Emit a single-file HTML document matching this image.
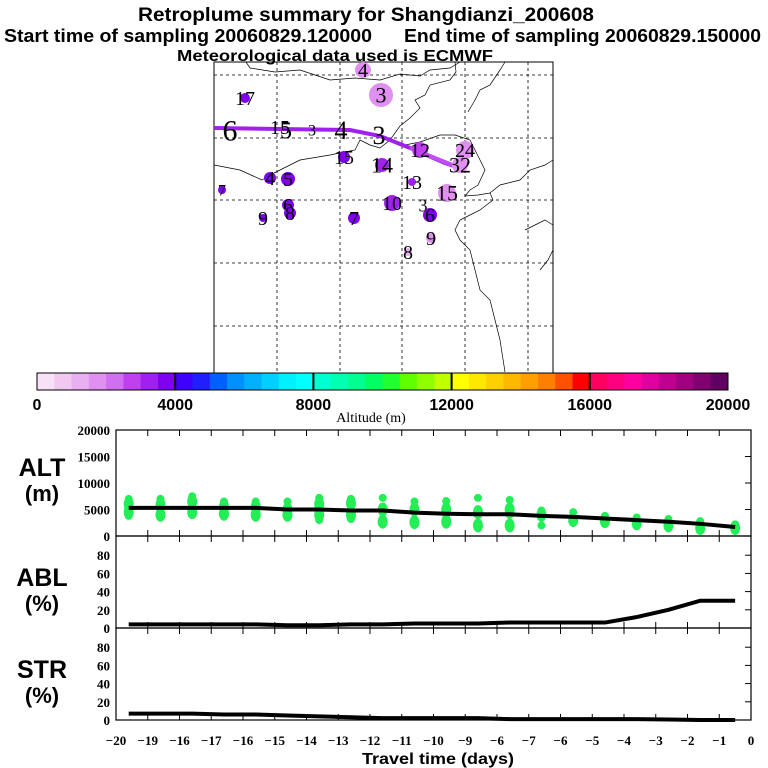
<!DOCTYPE html>
<html><head><meta charset="utf-8"><style>
body{margin:0;background:#fff;}
svg{display:block;font-family:"Liberation Sans",sans-serif;}
.tl{font-family:"Liberation Serif",serif;font-size:13px;font-weight:bold;}
.ml{font-family:"Liberation Serif",serif;fill:#000;}
</style></head><body>
<svg id="c" width="768" height="768" viewBox="0 0 768 768">
<rect width="768" height="768" fill="#fff"/>
<text x="366" y="21" font-size="19" font-weight="bold" text-anchor="middle" textLength="456" lengthAdjust="spacingAndGlyphs">Retroplume summary for Shangdianzi_200608</text>
<text x="4" y="42" font-size="18" font-weight="bold" textLength="368" lengthAdjust="spacingAndGlyphs">Start time of sampling 20060829.120000</text>
<text x="404" y="42" font-size="18" font-weight="bold" textLength="357" lengthAdjust="spacingAndGlyphs">End time of sampling 20060829.150000</text>
<text x="177" y="61" font-size="16" font-weight="bold" textLength="316" lengthAdjust="spacingAndGlyphs">Meteorological data used is ECMWF</text>

<g id="map">
<rect x="214" y="62" width="339" height="311" fill="none" stroke="#000" stroke-width="1"/>
<g stroke="#000" stroke-dasharray="3,3" stroke-width="0.8">
<line x1="277" y1="62" x2="277" y2="373"/><line x1="340" y1="62" x2="340" y2="373"/><line x1="402" y1="62" x2="402" y2="373"/><line x1="465" y1="62" x2="465" y2="373"/><line x1="528" y1="62" x2="528" y2="373"/>
<line x1="214" y1="75" x2="553" y2="75"/><line x1="214" y1="138" x2="553" y2="138"/><line x1="214" y1="200" x2="553" y2="200"/><line x1="214" y1="263" x2="553" y2="263"/><line x1="214" y1="326" x2="553" y2="326"/>
</g>
<g fill="none" stroke="#000" stroke-width="0.7">
<path d="M246,62 L250,68 L275,72 L300,70 L330,80 L355,78 L380,80 L400,74 L420,76 L430,70 L450,68 L460,62"/>
<path d="M455,62 L456,72 L450,80 L430,85 L425,95 L415,100 L420,108 L410,118 L400,126 L390,140 L380,148 L370,145 L360,140 L355,150 L330,155 L300,160 L280,170 L270,175 L262,180 L240,170 L214,165"/>
<path d="M390,140 L405,145 L420,142 L440,135 L455,135 L470,140 L475,150 L480,160 L485,170 L478,185 L470,190 L465,196 L478,195 L490,193 L493,200 L480,210 L470,215 L460,220 L455,230 L460,240 L470,250 L475,270 L480,290 L490,300 L495,320 L500,340 L505,372"/>
<path d="M490,193 L500,185 L520,180 L530,170 L545,165 L553,160"/>
<path d="M525,230 L535,225 L545,220 L553,225"/>
<path d="M540,270 L548,260 L553,250"/>
<path d="M468,112 L475,100 L480,90 L490,85 L500,70 L505,62"/>
</g>
<polyline points="214,128 350,130 380,136 410,148 445,163 460,168" fill="none" stroke="#a020f0" stroke-width="4"/>
<line x1="410" y1="148" x2="460" y2="168" stroke="#c050f0" stroke-width="4"/>
<g id="mapmarks"></g>
</g>

<g id="cbar"></g>
<text x="371" y="422" class="ml" font-size="14" text-anchor="middle">Altitude (m)</text>

<g id="alt"></g>
<g id="abl"></g>
<g id="str"></g>
<g id="xaxis"></g>
<text x="438" y="764" font-size="16" font-weight="bold" text-anchor="middle" textLength="152" lengthAdjust="spacingAndGlyphs">Travel time (days)</text>
<text x="42" y="476" font-size="25" font-weight="bold" text-anchor="middle">ALT</text>
<text x="42" y="501" font-size="22" font-weight="bold" text-anchor="middle">(m)</text>
<text x="42" y="586" font-size="25" font-weight="bold" text-anchor="middle">ABL</text>
<text x="42" y="611" font-size="22" font-weight="bold" text-anchor="middle">(%)</text>
<text x="42" y="678" font-size="25" font-weight="bold" text-anchor="middle">STR</text>
<text x="42" y="703" font-size="22" font-weight="bold" text-anchor="middle">(%)</text>
</svg>
<script>
const NS="http://www.w3.org/2000/svg";
// ---- data ----
const cbarColors=["#f8e0f8","#f0c8f0","#e8b0f0","#e090f0","#d070f0","#c040f0","#a020f0","#8000f0","#4000ff","#2020ff","#0060ff","#0090ff","#00b0ff","#00d0ff","#00f0ff","#00ffff","#00ffd0","#00ffb0","#00ff90","#00ff60","#20ff30","#60ff00","#90ff00","#c0ff00","#ffff00","#ffe800","#ffd000","#ffb800","#ffa000","#ff8000","#ff5000","#ff0000","#ff0060","#ff0080","#ff00a0","#e000a0","#c00090","#a00080","#800070","#600060"];
const cbarTicks=[0,4000,8000,12000,16000,20000];
const days=[-19.6,-18.6,-17.6,-16.6,-15.6,-14.6,-13.6,-12.6,-11.6,-10.6,-9.6,-8.6,-7.6,-6.6,-5.6,-4.6,-3.6,-2.6,-1.6,-0.5];
const altMean=[5300,5300,5300,5300,5300,5000,5000,4800,4800,4400,4200,4100,4100,3800,3600,3300,3000,2700,2300,1700];
const ablMean=[4,4,4,4,4,3,3,4,4,5,5,5,6,6,6,6,12,20,30,30];
const strMean=[7,7,7,6,6,5,4,3,2,2,2,2,1,1,1,1,1,0.5,0,0];
const altCluster=[[7000,6000,5500,4500,3800],[7000,5800,4500,4000],[7500,6500,5500,4500],[6500,5500,4500,4200],[6500,5500,4500,4000],[6500,5000,4500,4000],[7200,6000,5000,4000,3000],[7000,6200,5000,4000,3200],[7200,5000,4500,2700],[6500,5000,4500,2600],[6600,5000,4000,2700],[7200,4500,4000,2000],[6800,5000,4000,2000],[4800,4000,2000],[4500,3000],[3800,2800],[3500,2400],[3200,2000],[2800,1500],[2200,1500]];
const xTickLabels=["\u221220","\u221219","\u221216","\u221217","\u221216","\u221215","\u221214","\u221213","\u221212","\u221211","\u221210","\u22129","\u22126","\u22127","\u22126","\u22125","\u22124","\u22123","\u22122","\u22121","0"];
const altTicks=[0,5000,10000,15000,20000];
const pctTicks=[0,20,40,60,80];
const mapLabels=["4","3","17","6","15","5","3","4","3","12","24","15","14","13","4","5","7","10","3","6","15","9","8","6","8","9","7","32"];
const mapX=[363,381,245,230,280,286,312,341,379,420,465,344,382,412,270,288,222,392,423,430,447,431,408,288,290,263,354,460];
const mapY=[70,95,98,130,127,130,130,130,135,150,150,157,165,182,178,179,190,203,205,215,193,238,252,205,213,218,218,165];
const mapAlt=[1600,1600,3700,3500,3500,3500,3500,3500,3500,2800,1600,3700,3200,3200,3700,3700,3900,3200,1600,3600,1600,1600,1400,3700,3700,3700,3700,1500];
const mapSize=[8,12,5,0,0,0,0,0,0,8,9,6,7,4,6,7,4,8,0,7,9,5,4,6,6,4,6,8];
const mapFont=[20,22,20,30,20,24,16,26,26,20,20,20,22,20,20,20,16,20,18,20,22,20,20,20,20,20,20,22];
// ---- scales ----
const X0=116,X1=751;
const xs=d=>X0+(d+20)/20*(X1-X0);
const altY=v=>536-v/20000*106;
const ablY=v=>628-v/100*91;
const strY=v=>720-v/100*91;
function el(tag,attrs,parent,txt){const e=document.createElementNS(NS,tag);for(const k in attrs)e.setAttribute(k,attrs[k]);if(txt!==undefined)e.textContent=txt;parent.appendChild(e);return e;}
const colorFor=a=>cbarColors[Math.min(39,Math.floor(a/500))];
// colorbar
const cb=document.getElementById('cbar');
const cbx=v=>37+v/20000*691;
cbarColors.forEach((c,i)=>{const r=el('rect',{x:cbx(i*500),y:373,width:691/40+0.5,height:17,fill:c},cb);

});
el('rect',{x:37,y:373,width:691,height:17,fill:'none',stroke:'#000'},cb);
cbarTicks.forEach(t=>{if(t>0&&t<20000)el('line',{x1:cbx(t),y1:373,x2:cbx(t),y2:390,stroke:'#000','stroke-width':2},cb);
const tx=el('text',{x:cbx(t),y:410,'font-size':16,'font-weight':'bold','text-anchor':'middle'},cb,String(t));

});
// map markers
const mm=document.getElementById('mapmarks');
mapLabels.forEach((l,i)=>{if(mapSize[i]>0){const c=el('circle',{cx:mapX[i],cy:mapY[i],r:mapSize[i],fill:colorFor(mapAlt[i])},mm);

}
const t=el('text',{x:mapX[i],y:mapY[i]+mapFont[i]*0.35,'font-size':mapFont[i],'text-anchor':'middle',class:'ml'},mm,l);

});
// panels
function frame(g,top,bot,ticks,yf){
el('rect',{x:X0,y:top,width:X1-X0,height:bot-top,fill:'none',stroke:'#000','stroke-width':1.2},g);
for(let d=-19;d<=-1;d++){el('line',{x1:xs(d),y1:top,x2:xs(d),y2:top+6,stroke:'#000'},g);el('line',{x1:xs(d),y1:bot,x2:xs(d),y2:bot-6,stroke:'#000'},g);}
ticks.forEach(t=>{const y=yf(t);if(t>0){el('line',{x1:X1,y1:y,x2:X1-6,y2:y,stroke:'#000'},g);}
const tx=el('text',{x:X0-6,y:y+5,'text-anchor':'end',class:'tl'},g,String(t));

});
}
function line(g,vals,yf,name){const p=el('polyline',{points:vals.map((v,i)=>xs(days[i])+','+yf(v)).join(' '),fill:'none',stroke:'#000','stroke-width':4},g);

}
const ga=document.getElementById('alt');
altCluster.forEach((col,i)=>col.forEach((v,j)=>{const e=el('ellipse',{cx:xs(days[i]),cy:altY(v),rx:j%2?5:4,ry:j%2?7:4,fill:'#22ee55'},ga);

}));
frame(ga,430,536,altTicks,altY);
line(ga,altMean,altY,'alt-mean-line');
const gb=document.getElementById('abl');frame(gb,536,628,pctTicks,ablY);line(gb,ablMean,ablY,'abl-line');
const gs=document.getElementById('str');frame(gs,628,720,pctTicks,strY);line(gs,strMean,strY,'str-line');
const gx=document.getElementById('xaxis');
xTickLabels.forEach((l,i)=>{const t=el('text',{x:xs(-20+i),y:745,'text-anchor':'middle',class:'tl'},gx,l);

});
</script>
</body></html>
